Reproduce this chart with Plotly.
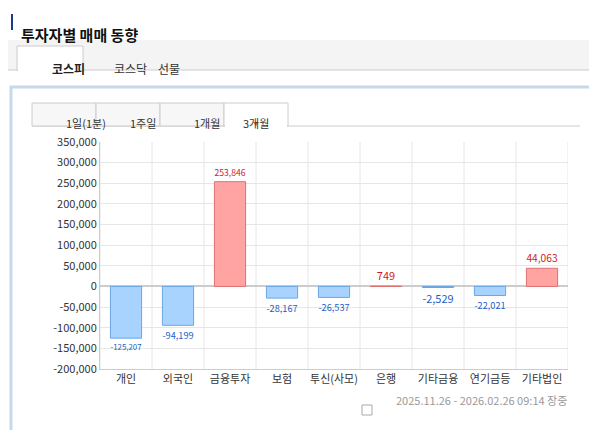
import plotly.graph_objects as go

categories = ['개인', '외국인', '금융투자', '보험', '투신(사모)', '은행', '기타금융기관', '연기금등', '기타법인']
tick_labels = ['개인', '외국인', '금융투자', '보험', '투신(사모)', '은행', '기타금융', '연기금등', '기타법인']
values = [-125207, -94199, 253846, -28167, -26537, 749, -2529, -22021, 44063]
y_ticks = list(range(-200000, 350001, 50000))

W, H = 597, 430
def px(x): return x / W
def py(y): return 1 - y / H

FONT = 'Noto Sans CJK KR'
fills = ['#ffa3a3' if v > 0 else '#a9d3ff' for v in values]
edges = ['#e07070' if v > 0 else '#6aa6e6' for v in values]
text_colors = ['#d11a1a' if v > 0 else '#1a5fc8' for v in values]

fig = go.Figure()
fig.add_trace(go.Bar(
    x=list(range(len(values))), y=values,
    marker=dict(color=fills, line=dict(color=edges, width=1)),
    width=0.6,
    text=[f'{v:,}' for v in values],
    textposition='outside', cliponaxis=False,
    textfont=dict(color=text_colors, size=11, family=FONT),
    hoverinfo='skip',
))

shapes = [
    # title bar marker
    dict(type='rect', xref='paper', yref='paper', x0=px(3), x1=px(5), y0=py(22), y1=py(6),
         fillcolor='#1f3a8a', line_width=0),
    # tab strip background
    dict(type='rect', xref='paper', yref='paper', x0=0, x1=1, y0=py(62), y1=py(32),
         fillcolor='#f4f4f4', line_width=0),
    dict(type='line', xref='paper', yref='paper', x0=0, x1=1, y0=py(62), y1=py(62),
         line=dict(color='#cccccc', width=1)),
    # active tab
    dict(type='rect', xref='paper', yref='paper', x0=px(9), x1=px(75), y0=py(62.5), y1=py(38),
         fillcolor='white', line=dict(color='#cccccc', width=1)),
    dict(type='line', xref='paper', yref='paper', x0=px(10), x1=px(74), y0=py(62), y1=py(62),
         line=dict(color='white', width=2)),
    # outer box
    dict(type='rect', xref='paper', yref='paper', x0=px(3), x1=px(600), y0=py(425), y1=py(79),
         fillcolor='rgba(0,0,0,0)', line=dict(color='#c8d8ec', width=3)),
    # period tabs baseline
    dict(type='line', xref='paper', yref='paper', x0=px(24), x1=px(572), y0=py(118), y1=py(118),
         line=dict(color='#cccccc', width=1)),
]
tabs = [(24, 88, '1일(1분)'), (88, 152, '1주일'), (152, 216, '1개월'), (216, 280, '3개월')]
annotations = []
for x0, x1, label in tabs:
    active = label == '3개월'
    shapes.append(dict(type='rect', xref='paper', yref='paper', x0=px(x0), x1=px(x1),
                       y0=py(118), y1=py(95),
                       fillcolor='white' if active else '#f7f7f7',
                       line=dict(color='#cccccc', width=1)))
    annotations.append(dict(x=px((x0 + x1) / 2), y=py(105), xref='paper', yref='paper',
                            text=label, showarrow=False, font=dict(size=11, color='#333', family=FONT)))
shapes.append(dict(type='line', xref='paper', yref='paper', x0=px(217), x1=px(279), y0=py(118), y1=py(118),
                   line=dict(color='white', width=2)))
shapes.append(dict(type='path', xref='paper', yref='paper',
                   path=f'M {px(245)},{py(114)} L {px(251)},{py(114)} L {px(248)},{py(118)} Z',
                   fillcolor='#f26522', line_width=0))
annotations += [
    dict(x=px(11), y=py(14), xref='paper', yref='paper', xanchor='left', text='<b>투자자별 매매 동향</b>',
         showarrow=False, font=dict(size=15, color='#111', family=FONT)),
    dict(x=px(42), y=py(50), xref='paper', yref='paper', text='<b>코스피</b>', showarrow=False,
         font=dict(size=12, color='#222', family=FONT)),
    dict(x=px(104), y=py(50), xref='paper', yref='paper', text='코스닥', showarrow=False,
         font=dict(size=12, color='#333', family=FONT)),
    dict(x=px(148), y=py(50), xref='paper', yref='paper', text='선물', showarrow=False,
         font=dict(size=12, color='#333', family=FONT)),
    dict(x=px(561), y=py(402), xref='paper', yref='paper', xanchor='right',
         text='2025.11.26 - 2026.02.26 09:14 장중', showarrow=False,
         font=dict(size=11, color='#999', family=FONT)),
]
shapes.append(dict(type='rect', xref='paper', yref='paper', x0=px(354), x1=px(364), y0=py(407), y1=py(397),
                   fillcolor='white', line=dict(color='#aaaaaa', width=1)))

fig.update_layout(
    width=W, height=H, margin=dict(l=0, r=0, t=0, b=0, pad=0, autoexpand=False),
    paper_bgcolor='white', plot_bgcolor='white', showlegend=False,
    font=dict(family=FONT, size=11, color='#333'),
    shapes=shapes, annotations=annotations,
    xaxis=dict(domain=[px(92), px(560)], range=[-0.5, 8.5],
               tickvals=list(range(len(values))), ticktext=tick_labels,
               showgrid=False, showline=True, linecolor='#cccccc', automargin=False,
               zeroline=False, fixedrange=True),
    yaxis=dict(domain=[py(361), py(134)], range=[-200000, 350000],
               tickvals=y_ticks, ticktext=[f'{v:,}' for v in y_ticks], automargin=False,
               showgrid=True, gridcolor='#e6e6e6', zeroline=True, zerolinecolor='#cccccc',
               showline=True, linecolor='#cccccc', fixedrange=True),
)
# category separators
for i in range(len(values) + 1):
    fig.add_shape(type='line', xref='x', yref='paper', x0=i - 0.5, x1=i - 0.5,
                  y0=py(361), y1=py(134), line=dict(color='#e6e6e6', width=1), layer='below')

fig.write_html('out.html')
